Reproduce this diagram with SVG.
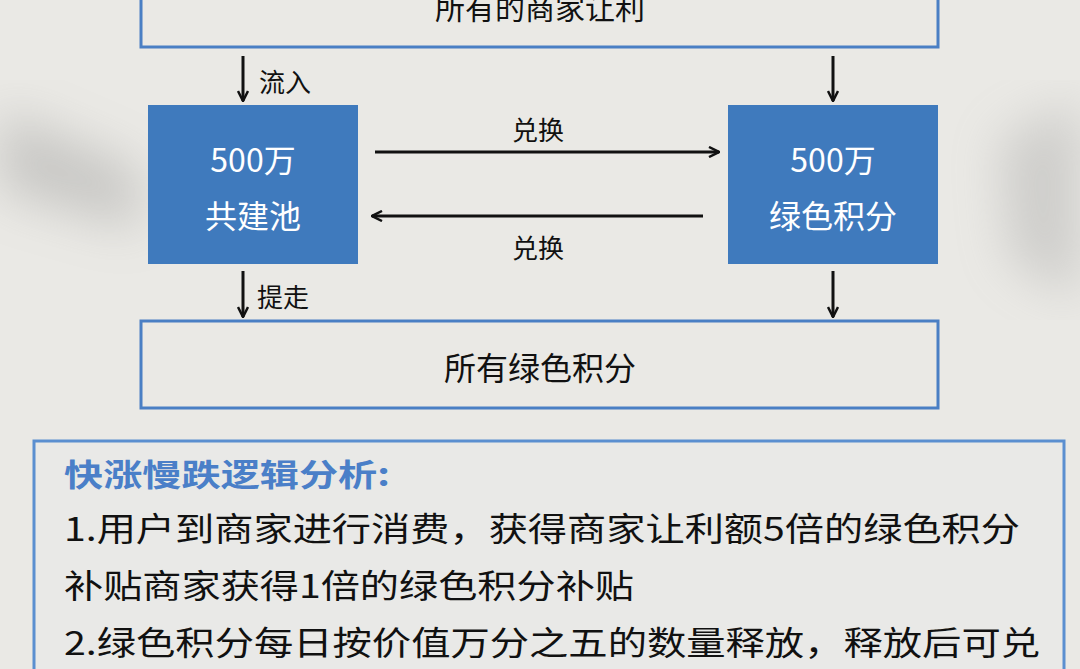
<svg xmlns="http://www.w3.org/2000/svg" width="1080" height="669" viewBox="0 0 1080 669">
<defs>
<style>
text{font-family:"Noto Sans CJK SC","Liberation Sans",sans-serif}
.frame{fill:none;stroke:#4a7fc4;stroke-width:3}
.blue{fill:#3f7abd}
.wt{fill:#fff;font-size:32px;text-anchor:middle}
.lbl{fill:#111;font-size:26px}
.ln{stroke:#111;stroke-width:3;fill:none}
.body{fill:#111;font-size:33px}
</style>
<marker id="ah" viewBox="0 0 12 12" refX="11" refY="6" markerWidth="12" markerHeight="12" markerUnits="userSpaceOnUse" orient="auto"><path d="M1,1 L11,6 L1,11" fill="none" stroke="#111" stroke-width="2.5"/></marker>
<filter id="bl"><feGaussianBlur stdDeviation="25"/></filter>
</defs>
<rect width="1080" height="669" fill="#eae9e5"/>
<g filter="url(#bl)" opacity="0.35">
<path d="M0,110 L140,170 L140,230 L0,190 Z" fill="#888"/>
<path d="M1000,140 L1080,100 L1080,300 L1010,260 Z" fill="#999"/>
</g>
<g id="top"><rect class="frame" x="141" y="-10" width="797" height="57" fill="#ecebe7"/><text x="540" y="19" class="body" text-anchor="middle" style="font-size:30px">所有的商家让利</text></g>
<g id="pool"><rect class="blue" x="148" y="105" width="210" height="159"/><text class="wt" x="253" y="172">500万</text><text class="wt" x="253" y="228">共建池</text></g>
<g id="green"><rect class="blue" x="728" y="105" width="210" height="159"/><text class="wt" x="833" y="172">500万</text><text class="wt" x="833" y="228">绿色积分</text></g>
<g id="all"><rect class="frame" x="141" y="321" width="797" height="87" fill="#ecebe7"/><text x="540" y="380" class="body" text-anchor="middle" style="font-size:32px">所有绿色积分</text></g>
<g id="connectors">
<line class="ln" x1="243" y1="56" x2="243" y2="101" marker-end="url(#ah)"/>
<text class="lbl" x="259" y="92">流入</text>
<line class="ln" x1="833" y1="56" x2="833" y2="101" marker-end="url(#ah)"/>
<line class="ln" x1="375" y1="152" x2="719" y2="152" marker-end="url(#ah)"/>
<text class="lbl" x="538" y="140" text-anchor="middle">兑换</text>
<line class="ln" x1="703" y1="216" x2="372" y2="216" marker-end="url(#ah)"/>
<text class="lbl" x="538" y="258" text-anchor="middle">兑换</text>
<line class="ln" x1="243" y1="271" x2="243" y2="317" marker-end="url(#ah)"/>
<text class="lbl" x="257" y="307">提走</text>
<line class="ln" x1="833" y1="271" x2="833" y2="317" marker-end="url(#ah)"/>
</g>
<g id="panel">
<rect x="34" y="441" width="1030" height="240" fill="#e9e9e7" stroke="#5b8fd0" stroke-width="3"/>
<text x="64" y="486" fill="#4a7fc8" font-weight="bold" style="font-size:31px" textLength="326" lengthAdjust="spacingAndGlyphs">快涨慢跌逻辑分析:</text>
<text class="body" x="64" y="541" textLength="956" lengthAdjust="spacingAndGlyphs">1.用户到商家进行消费，获得商家让利额5倍的绿色积分</text>
<text class="body" x="64" y="598" textLength="570" lengthAdjust="spacingAndGlyphs">补贴商家获得1倍的绿色积分补贴</text>
<text class="body" x="64" y="655" textLength="976" lengthAdjust="spacingAndGlyphs">2.绿色积分每日按价值万分之五的数量释放，释放后可兑</text>
</g>
</svg>
